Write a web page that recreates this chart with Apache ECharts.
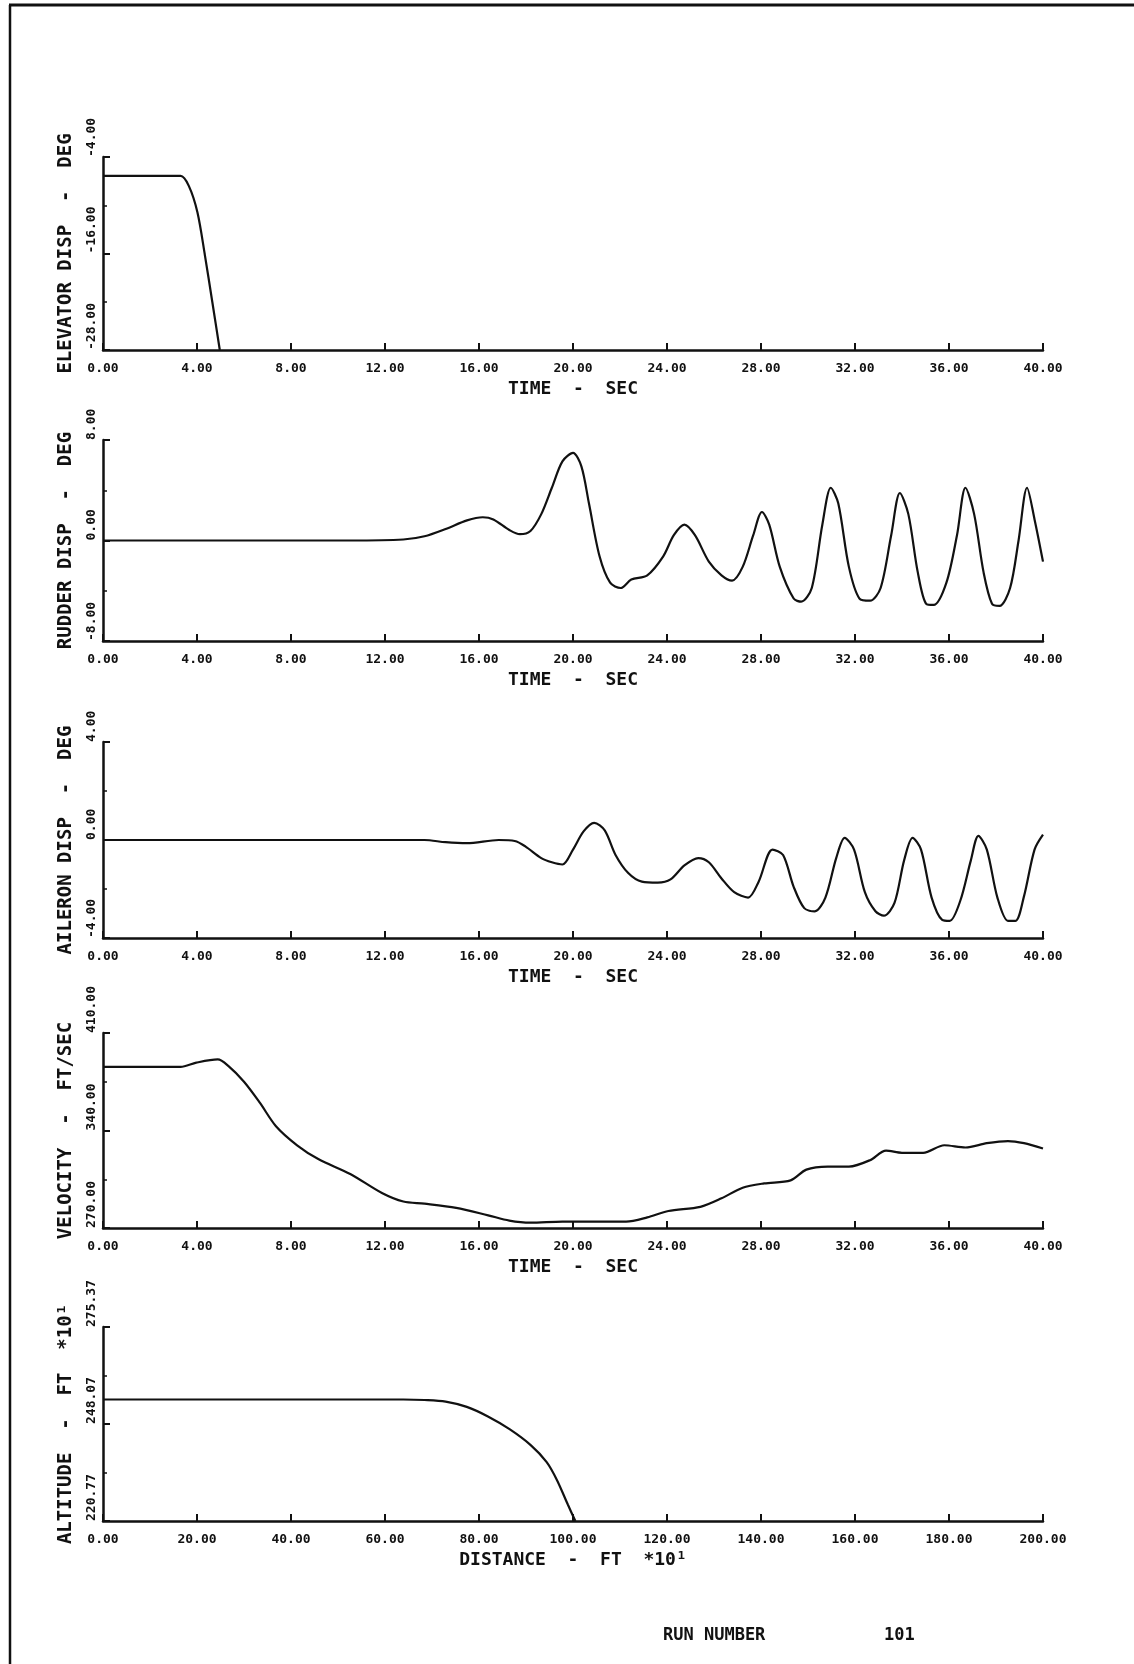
<!DOCTYPE html>
<html><head><meta charset="utf-8">
<script src="https://cdn.jsdelivr.net/npm/echarts@6/dist/echarts.min.js"></script>
<style>html,body{margin:0;padding:0;background:#fff}#c{width:1134px;height:1664px}</style>
</head><body><div id="c"></div>
<script>
// ---- tick labels ----
const timeTicks = ['0.00','4.00','8.00','12.00','16.00','20.00','24.00','28.00','32.00','36.00','40.00'];
const distTicks = ['0.00','20.00','40.00','60.00','80.00','100.00','120.00','140.00','160.00','180.00','200.00'];
const elevTicks = ['-28.00','-16.00','-4.00'];
const rudTicks = ['-8.00','0.00','8.00'];
const ailTicks = ['-4.00','0.00','4.00'];
const velTicks = ['270.00','340.00','410.00'];
const altTicks = ['220.77','248.07','275.37'];

// ---- series data ----
const elevT = [0,3.3,3.66,4.02,4.33,4.65,4.97];
const elevV = [-6.35,-6.35,-7.65,-10.9,-16.1,-22.0,-28.0];

const rudT = [0,10.52,12.78,13.68,14.58,15.49,16.16,16.61,17.29,17.74,18.19,18.65,19.10,19.55,20.00,20.36,20.68,21.13,21.58,22.03,22.48,23.16,23.84,24.29,24.74,25.19,25.78,26.32,26.77,27.22,27.67,28.04,28.35,28.80,29.39,29.71,30.16,30.61,30.97,31.29,31.74,32.19,32.64,33.09,33.54,33.91,34.27,34.67,35.03,35.35,35.89,36.34,36.70,37.07,37.47,37.83,38.15,38.60,38.96,39.32,39.64,40.00];
const rudV = [0,0,0.08,0.34,0.92,1.60,1.85,1.68,0.84,0.50,0.76,2.10,4.20,6.30,6.97,5.88,2.94,-1.26,-3.36,-3.78,-3.11,-2.77,-1.26,0.42,1.26,0.42,-1.68,-2.77,-3.19,-2.10,0.42,2.27,1.26,-2.10,-4.62,-4.87,-3.78,1.26,4.20,2.94,-2.10,-4.62,-4.79,-3.78,0.42,3.78,2.10,-2.52,-5.04,-5.13,-3.36,0.42,4.20,2.10,-2.52,-5.04,-5.21,-3.78,0,4.20,1.68,-1.68];

const ailT = [0,13.68,14.58,15.49,16.84,17.52,17.97,18.65,19.10,19.55,20.00,20.45,20.90,21.35,21.81,22.35,22.93,23.61,24.15,24.74,25.33,25.78,26.32,26.86,27.45,27.90,28.49,28.94,29.39,29.84,30.29,30.74,31.20,31.56,31.96,32.42,32.87,33.23,33.68,34.09,34.45,34.81,35.26,35.71,36.03,36.48,36.93,37.25,37.61,38.06,38.51,38.83,39.19,39.64,40.00];
const ailV = [0,0,-0.09,-0.13,0,-0.04,-0.26,-0.74,-0.91,-1.00,-0.39,0.35,0.70,0.39,-0.61,-1.35,-1.70,-1.74,-1.61,-1.04,-0.74,-0.91,-1.57,-2.13,-2.35,-1.70,-0.39,-0.61,-1.91,-2.78,-2.91,-2.35,-0.74,0.09,-0.39,-2.13,-2.91,-3.09,-2.57,-0.83,0.09,-0.39,-2.35,-3.26,-3.30,-2.48,-0.83,0.17,-0.39,-2.35,-3.30,-3.30,-2.30,-0.39,0.22];

const velT = [0,3.30,3.97,4.88,5.33,6.00,6.68,7.36,8.26,9.16,10.52,11.87,12.78,13.68,15.03,16.39,17.29,18.19,19.55,20.90,22.26,23.16,24.06,25.42,26.32,27.22,28.13,29.26,29.93,30.84,31.74,32.64,33.32,34.00,34.90,35.80,36.70,37.61,38.51,39.19,40.00];
const velV = [385.7,385.7,388.7,391.0,386.4,375.0,359.8,343.1,329.4,319.5,308.8,295.1,289.0,287.5,284.5,279.1,275.3,273.8,274.6,274.6,274.6,277.6,282.2,285.2,291.3,298.9,302.0,304.2,311.9,314.1,314.1,318.7,325.6,324.0,324.0,329.4,327.8,330.9,332.4,330.9,327.1];

const altD = [0,63.9,68.4,72.9,77.4,81.9,86.5,91.0,94.4,96.6,98.9,100.5];
const altV = [254.97,254.97,254.82,254.37,252.88,250.19,246.61,242.13,237.35,232.27,225.40,220.77];

const zip = (a, b) => a.map((v, i) => [v, b[i]]);

const FONT = "'DejaVu Sans Mono', monospace";
const INK = '#111';

const panels = [
  {top:157, height:193, name:'ELEVATOR DISP  -  DEG', min:-28, max:-4, interval:12, ticks:elevTicks, xmax:40, xint:4, xticks:timeTicks, xname:'TIME  -  SEC', data:zip(elevT, elevV)},
  {top:440, height:201, name:'RUDDER DISP  -  DEG', min:-8, max:8, interval:8, ticks:rudTicks, xmax:40, xint:4, xticks:timeTicks, xname:'TIME  -  SEC', data:zip(rudT, rudV)},
  {top:742, height:196, name:'AILERON DISP  -  DEG', min:-4, max:4, interval:4, ticks:ailTicks, xmax:40, xint:4, xticks:timeTicks, xname:'TIME  -  SEC', data:zip(ailT, ailV)},
  {top:1033, height:195, name:'VELOCITY  -  FT/SEC', min:270, max:410, interval:70, ticks:velTicks, xmax:40, xint:4, xticks:timeTicks, xname:'TIME  -  SEC', data:zip(velT, velV)},
  {top:1327, height:194, name:'ALTITUDE  -  FT  *10\u00B9', min:220.77, max:275.37, interval:27.3, ticks:altTicks, xmax:200, xint:20, xticks:distTicks, xname:'DISTANCE  -  FT  *10\u00B9', data:zip(altD, altV)}
];

const grid = [], xAxis = [], yAxis = [], series = [];
panels.forEach((p, i) => {
  grid.push({left:103, width:940, top:p.top, height:p.height, containLabel:false});
  xAxis.push({
    type:'value', gridIndex:i, min:0, max:p.xmax, interval:p.xint,
    axisLine:{show:true, onZero:false, lineStyle:{color:INK, width:2.5}},
    axisTick:{show:true, inside:true, length:7, lineStyle:{color:INK, width:2}},
    splitLine:{show:false},
    axisLabel:{color:INK, fontFamily:FONT, fontWeight:'bold', fontSize:13, margin:12,
      formatter:(v) => p.xticks[Math.round(v / p.xint)] || ''},
    name:p.xname, nameLocation:'middle', nameGap:30,
    nameTextStyle:{color:INK, fontFamily:FONT, fontWeight:'bold', fontSize:18}
  });
  yAxis.push({
    type:'value', gridIndex:i, min:p.min, max:p.max, interval:p.interval,
    axisLine:{show:true, onZero:false, lineStyle:{color:INK, width:2.5}},
    axisTick:{show:true, inside:true, length:7, lineStyle:{color:INK, width:2}},
    minorTick:{show:true, splitNumber:2, length:4, lineStyle:{color:INK, width:1.5}},
    splitLine:{show:false},
    axisLabel:{color:INK, fontFamily:FONT, fontWeight:'bold', fontSize:13, margin:5,
      rotate:90, align:'left', verticalAlign:'bottom',
      formatter:(v) => p.ticks[Math.round((v - p.min) / p.interval)] || ''},
    name:p.name, nameLocation:'middle', nameGap:27, nameRotate:90,
    nameTextStyle:{color:INK, fontFamily:FONT, fontWeight:'bold', fontSize:19}
  });
  series.push({
    type:'line', xAxisIndex:i, yAxisIndex:i, data:p.data, showSymbol:false, smooth:0.3,
    clip:true, lineStyle:{color:INK, width:2.2}, animation:false
  });
});

const chart = echarts.init(document.getElementById('c'), null, {renderer:'canvas'});
chart.setOption({
  backgroundColor:'#fff',
  animation:false,
  grid, xAxis, yAxis, series,
  graphic:[
    {type:'line', shape:{x1:9, y1:5, x2:1134, y2:5}, style:{stroke:INK, lineWidth:3}},
    {type:'line', shape:{x1:10, y1:5, x2:10, y2:1664}, style:{stroke:INK, lineWidth:2.5}},
    {type:'text', left:663, top:1627, style:{text:'RUN NUMBER', fill:INK, font:"bold 17px 'DejaVu Sans Mono', monospace"}},
    {type:'text', left:884, top:1627, style:{text:'101', fill:INK, font:"bold 17px 'DejaVu Sans Mono', monospace"}}
  ]
});
</script>
</body></html>
